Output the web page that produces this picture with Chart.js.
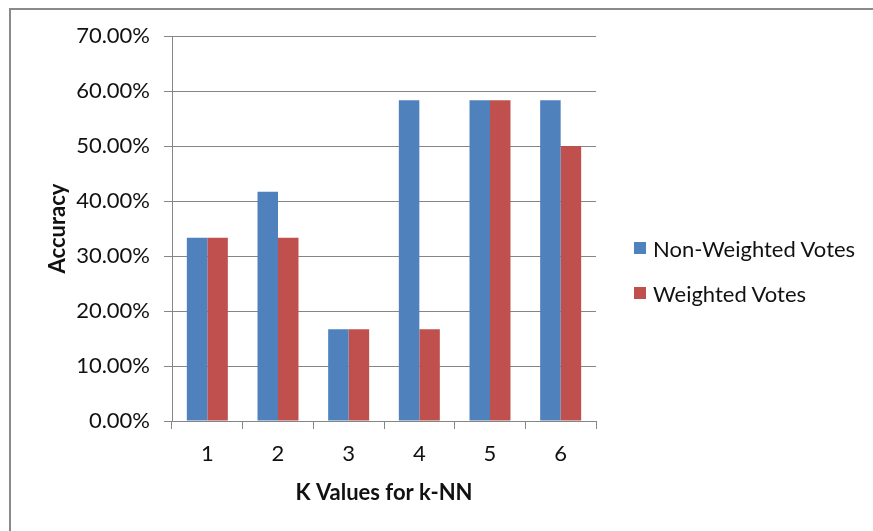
<!DOCTYPE html>
<html>
<head>
<meta charset="utf-8">
<script src="https://cdn.jsdelivr.net/npm/chart.js@4.4.1/dist/chart.umd.min.js"></script>
<style>
  html, body { margin: 0; padding: 0; background: #fff; }
  body { width: 873px; height: 531px; position: relative; overflow: hidden; font-family: Lato, "Open Sans", sans-serif; }
  #frame { position: absolute; left: 9px; top: 8px; width: 900px; height: 600px; border: 2px solid #8a8a8a; box-sizing: border-box; }
  #chart { position: absolute; left: 0; top: 0; }
  #legend { position: absolute; left: 634px; top: 234px; font-size: 22px; color: #111; }
  #legend .item { display: flex; align-items: center; height: 28px; margin-bottom: 17px; white-space: nowrap; }
  #legend .box { width: 12px; height: 12px; margin-right: 7px; }
</style>
</head>
<body>
<div id="frame"></div>
<canvas id="chart" width="873" height="531"></canvas>
<div id="legend"></div>
<script>
const kValues = ["1", "2", "3", "4", "5", "6"];
const nonWeighted = [33.33, 41.67, 16.67, 58.33, 58.33, 58.33];
const weighted = [33.33, 33.33, 16.67, 16.67, 58.33, 50.00];

const blue = "#4F81BD";
const red = "#C0504D";
const gridColor = "#868686";
const font = "Lato";

const datasets = [
    { label: "Non-Weighted Votes", data: nonWeighted, backgroundColor: blue },
    { label: "Weighted Votes", data: weighted, backgroundColor: red }
];

const chart = new Chart(document.getElementById("chart"), {
    type: "bar",
    data: { labels: kValues, datasets: datasets },
    options: {
        responsive: false,
        animation: false,
        devicePixelRatio: 1,
        datasets: { bar: { categoryPercentage: 0.58, barPercentage: 1 } },
        layout: { padding: { top: 36, left: 30, right: 277, bottom: 0 } },
        plugins: { legend: { display: false }, tooltip: { enabled: false } },
        scales: {
            x: {
                grid: { display: true, drawOnChartArea: false, color: gridColor, tickLength: 8, offset: true },
                border: { color: gridColor },
                ticks: { font: { family: font, size: 22 }, color: "#111", padding: 12 },
                title: { display: true, text: "K Values for k-NN", font: { family: font, size: 22, weight: "bold" }, color: "#111", padding: { top: 0, bottom: 25 } },
                afterFit: function(scale) { scale.height = 110; }
            },
            y: {
                min: 0, max: 70,
                grid: { color: gridColor, tickLength: 8 },
                border: { color: gridColor },
                ticks: { stepSize: 10, font: { family: font, size: 22 }, color: "#111", padding: 14,
                    callback: v => v.toFixed(2) + "%" },
                title: { display: true, text: "Accuracy", font: { family: font, size: 22, weight: "bold" }, color: "#111", padding: { top: 15, bottom: 0 } },
                afterFit: function(scale) { scale.width = 142; }
            }
        }
    }
});

const legendEl = document.getElementById("legend");
chart.data.datasets.forEach(ds => {
    const item = document.createElement("div");
    item.className = "item";
    const box = document.createElement("span");
    box.className = "box";
    box.style.background = ds.backgroundColor;
    item.appendChild(box);
    item.appendChild(document.createTextNode(ds.label));
    legendEl.appendChild(item);
});
</script>
</body>
</html>
